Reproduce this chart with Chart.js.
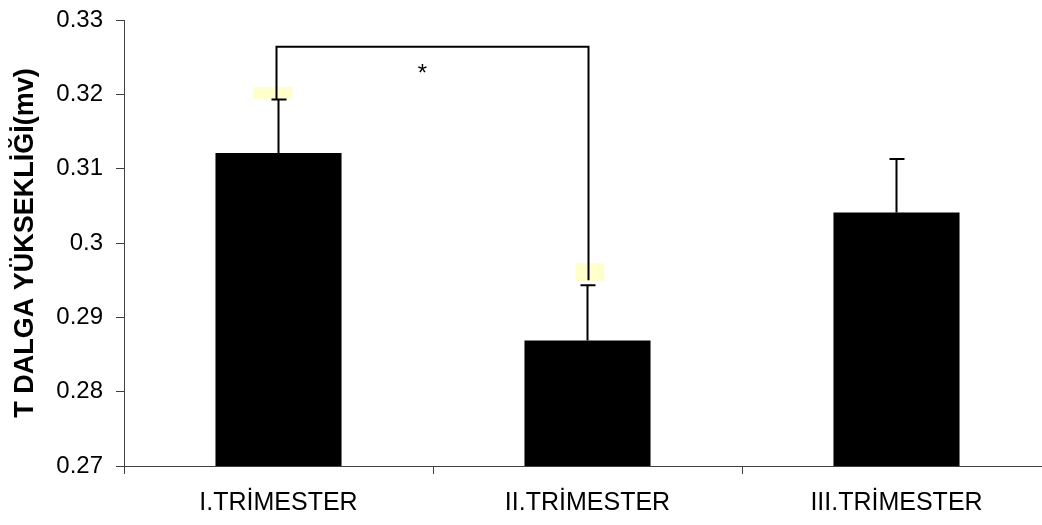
<!DOCTYPE html>
<html>
<head>
<meta charset="utf-8">
<script src="https://cdn.jsdelivr.net/npm/chart.js@4.4.1/dist/chart.umd.min.js"></script>
<style>
    html, body { margin: 0; padding: 0; background: #fff; overflow: hidden; }
    #wrap { width: 1060px; height: 525px; }
</style>
</head>
<body>
<div id="wrap"><canvas id="grafico"></canvas></div>
<script>
// dados
const categorias = ['I.TRİMESTER', 'II.TRİMESTER', 'III.TRİMESTER'];
const medias = [0.3121, 0.2869, 0.3041];
const erroSuperior = [0.3193, 0.2943, 0.3113];
const rotulosY = ['0.27', '0.28', '0.29', '0.3', '0.31', '0.32', '0.33'];
// colchete de significância: topo, fim da perna esquerda, fim da perna direita
const colchete = [0.3264, 0.3193, 0.2950];
// manchas amarelas (faixa de valores) sobre as barras 1 e 2
const manchaBaixo = [0.3194, 0.2949];
const manchaAlto = [0.3210, 0.2973];

const fonte = 'Liberation Sans, Arial, sans-serif';

// barras de erro, colchete e asterisco
const anotacoes = {
    id: 'anotacoes',
    afterDatasetsDraw(chart) {
        const ctx = chart.ctx;
        const y = chart.scales.y;
        const barras = chart.getDatasetMeta(0).data;
        ctx.save();

        // manchas amarelas
        ctx.fillStyle = '#ffffcc';
        const deslocX = [[-25, 14], [-12, 17]];
        for (let i = 0; i < manchaBaixo.length; i++) {
            const x = barras[i].x;
            const yA = y.getPixelForValue(manchaAlto[i]);
            const yB = y.getPixelForValue(manchaBaixo[i]);
            ctx.fillRect(x + deslocX[i][0], yA, deslocX[i][1] - deslocX[i][0], yB - yA);
        }

        // barras de erro
        ctx.strokeStyle = '#000';
        ctx.lineWidth = 2;
        barras.forEach((b, i) => {
            const yTopo = y.getPixelForValue(erroSuperior[i]);
            ctx.beginPath();
            ctx.moveTo(b.x, b.y);
            ctx.lineTo(b.x, yTopo);
            ctx.moveTo(b.x - 7, yTopo);
            ctx.lineTo(b.x + 8, yTopo);
            ctx.stroke();
        });

        // colchete
        const xE = barras[0].x - 2;
        const xD = barras[1].x + 1;
        const yTop = y.getPixelForValue(colchete[0]);
        ctx.lineWidth = 2;
        ctx.beginPath();
        ctx.moveTo(xE, y.getPixelForValue(colchete[1]));
        ctx.lineTo(xE, yTop);
        ctx.lineTo(xD, yTop);
        ctx.lineTo(xD, y.getPixelForValue(colchete[2]));
        ctx.stroke();

        ctx.fillStyle = '#000';
        ctx.font = '24px ' + fonte;
        ctx.textAlign = 'center';
        ctx.textBaseline = 'alphabetic';
        ctx.fillText('*', (xE + xD) / 2 - 10, yTop + 34);

        ctx.restore();
    }
};

const ctxBarras = document.getElementById('grafico').getContext('2d');
const grafico = new Chart(ctxBarras, {
    type: 'bar',
    data: {
        labels: categorias,
        datasets: [{
            data: medias,
            backgroundColor: '#000',
            borderWidth: 0,
            categoryPercentage: 1,
            barPercentage: 0.408
        }]
    },
    options: {
        responsive: true,
        maintainAspectRatio: false,
        animation: false,
        layout: { padding: { top: 20, right: 9, bottom: 0, left: 0 } },
        plugins: {
            legend: { display: false },
            tooltip: { enabled: false }
        },
        scales: {
            x: {
                grid: { display: true, drawOnChartArea: false, tickLength: 8, color: '#404040', lineWidth: 1 },
                border: { display: true, color: '#404040', width: 1 },
                ticks: { color: '#000', font: { family: fonte, size: 25 }, padding: 14, maxRotation: 0 },
                afterFit(scale) {
                    scale.height = 59;
                    scale.paddingLeft = 0;
                    scale.paddingRight = 0;
                }
            },
            y: {
                min: 0.27,
                max: 0.33,
                grid: { display: true, drawOnChartArea: false, tickLength: 8, color: '#404040', lineWidth: 1 },
                border: { display: true, color: '#404040', width: 1 },
                ticks: {
                    stepSize: 0.01,
                    color: '#000',
                    font: { family: fonte, size: 24 },
                    padding: 13,
                    callback: (v, i) => rotulosY[i]
                },
                title: {
                    display: true,
                    text: 'T DALGA YÜKSEKLİĞİ(mv)',
                    color: '#000',
                    font: { family: fonte, size: 27, weight: 'bold' },
                    padding: { top: 9, bottom: 0 }
                },
                afterFit(scale) {
                    scale.width = 124;
                    scale.paddingTop = 0;
                    scale.paddingBottom = 0;
                }
            }
        }
    },
    plugins: [anotacoes]
});
</script>
</body>
</html>
